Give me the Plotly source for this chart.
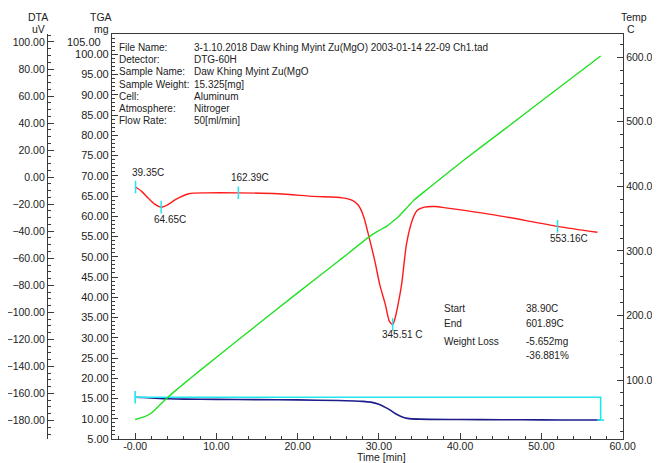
import plotly.graph_objects as go

# ---------------- data ----------------
dta_time = [0.05, 0.8, 1.6, 2.4, 3.2, 4.0, 5.0, 6.6, 8.8, 12.7, 17.6, 22.0, 25.5, 26.8,
            27.5, 28.15, 28.8, 29.5, 30.1, 30.8, 31.3, 31.7, 32.0, 32.4, 32.8, 33.4,
            34.1, 34.7, 35.6, 36.9, 38.2, 44.0, 52.0, 56.9]
dta_val = [-7.3, -10.5, -15.5, -20.0, -22.2, -20.5, -16.5, -12.3, -11.6, -11.6, -12.3,
           -14.2, -15.3, -17.3, -21.0, -29.6, -44.6, -62.0, -79.3, -94.3, -106.7, -109.0,
           -104.2, -93.0, -79.3, -49.6, -32.1, -24.7, -22.2, -21.7, -22.7, -27.7, -36.4, -40.8]

tga_time = [0, 1, 2, 3, 4, 6, 10, 15, 20, 25, 27, 28, 29, 30, 30.8, 31.5, 32, 32.8,
            33.5, 35, 40, 45, 50, 55, 57.3]
tga_mass = [15.325, 15.25, 15.12, 15.0, 14.92, 14.85, 14.78, 14.72, 14.65, 14.5, 14.4,
            14.3, 14.1, 13.6, 12.8, 12.0, 11.3, 10.5, 10.1, 9.9, 9.82, 9.76, 9.72, 9.69, 9.673]

temp_time = [0, 1, 2, 3, 4, 5, 6, 8, 12.7, 20, 25, 29, 30, 31, 31.7, 32.5, 33.3, 34.3,
             36, 40.4, 45, 52.2, 57.3]
temp_val = [38.9, 42.5, 49.0, 61.0, 73.0, 84.0, 94.5, 115.0, 162.4, 235.0, 284.0, 323.7,
            331.5, 338.5, 345.5, 354.0, 365.0, 378.6, 396.0, 440.0, 484.0, 553.2, 601.9]

peak_time = [0.05, 3.2, 12.7, 31.7, 52.0]
peak_dta = [-7.3, -22.2, -11.6, -109.0, -36.4]
peak_labels = ["39.35C", "64.65C", "162.39C", "345.51 C", "553.16C"]
peak_shift = [(12, 15), (9, -12), (12, 15), (10, -10), (11, -12)]

step_time = [0, 57.3]
step_mass = [15.325, 9.673]

x_ticks = [0, 10, 20, 30, 40, 50, 60]
x_ticktext = ["-0.00", "10.00", "20.00", "30.00", "40.00", "50.00", "60.00"]
tga_ticks = list(range(5, 101, 5))
dta_ticks = list(range(-180, 101, 20))
temp_ticks = [100, 200, 300, 400, 500, 600]

info_keys = ["File Name:", "Detector:", "Sample Name:", "Sample Weight:", "Cell:",
             "Atmosphere:", "Flow Rate:"]
info_vals = ["3-1.10.2018 Daw Khing Myint Zu(MgO) 2003-01-14 22-09 Ch1.tad", "DTG-60H",
             "Daw Khing Myint Zu(MgO", "15.325[mg]", "Aluminum", "Nitroger", "50[ml/min]"]
stat_keys = ["Start", "End", "Weight Loss", ""]
stat_vals = ["38.90C", "601.89C", "-5.652mg", "-36.881%"]

# ---------------- layout geometry ----------------
# The page body has an 8px default margin, so figure coordinates = screen - 8.
OFF = 8
W, H = 660, 463
PLOT_L, PLOT_R, PLOT_T, PLOT_B = 112, 623, 34, 439   # screen pixels of the plot frame
L = 0
T = PLOT_T - OFF
R = W - (PLOT_R - OFF)
B = H - (PLOT_B - OFF)
PW, PH = W - L - R, H - T - B


def px(xs):
    return (xs - OFF - L) / PW


def py(ys):
    return (H - B - (ys - OFF)) / PH


FONT = "Arial, 'Liberation Sans', sans-serif"
AX = "#3a3a3a"
TXT = "#222"
ANN = 10

fig = go.Figure()

fig.add_trace(go.Scatter(x=temp_time, y=temp_val, yaxis="y3", mode="lines",
                         line=dict(color="#22e022", width=1.4, shape="spline", smoothing=0.5),
                         hoverinfo="skip", showlegend=False))
fig.add_trace(go.Scatter(x=tga_time, y=tga_mass, yaxis="y", mode="lines",
                         line=dict(color="#1c1c8a", width=1.6, shape="spline", smoothing=0.6),
                         hoverinfo="skip", showlegend=False))
# weight-loss bracket
fig.add_trace(go.Scatter(x=[step_time[0], step_time[1], step_time[1]],
                         y=[step_mass[0], step_mass[0], step_mass[1]], yaxis="y",
                         mode="lines", line=dict(color="#22e5ee", width=1.6),
                         hoverinfo="skip", showlegend=False))
fig.add_trace(go.Scatter(x=[step_time[0]], y=[step_mass[0]], yaxis="y", mode="markers",
                         marker=dict(symbol="line-ns", size=9,
                                     line=dict(color="#22e5ee", width=1.6)),
                         hoverinfo="skip", showlegend=False))
fig.add_trace(go.Scatter(x=[step_time[1]], y=[step_mass[1]], yaxis="y", mode="markers",
                         marker=dict(symbol="line-ew", size=5,
                                     line=dict(color="#22e5ee", width=1.6)),
                         hoverinfo="skip", showlegend=False))
fig.add_trace(go.Scatter(x=dta_time, y=dta_val, yaxis="y2", mode="lines",
                         line=dict(color="#ff1a1a", width=1.4, shape="spline", smoothing=0.7),
                         hoverinfo="skip", showlegend=False))
fig.add_trace(go.Scatter(x=peak_time, y=peak_dta, yaxis="y2", mode="markers",
                         marker=dict(symbol="line-ns", size=9,
                                     line=dict(color="#22e5ee", width=1.5)),
                         hoverinfo="skip", showlegend=False))

annotations = []
for t, v, lab, (dx, dy) in zip(peak_time, peak_dta, peak_labels, peak_shift):
    annotations.append(dict(x=t, y=v, xref="x", yref="y2", text=lab, showarrow=False,
                            xanchor="center", yanchor="middle", xshift=dx, yshift=dy,
                            font=dict(size=ANN, color=TXT)))

info_y = [47, 59, 71.5, 84, 96, 108.5, 120.5]
for k, v, yy in zip(info_keys, info_vals, info_y):
    annotations.append(dict(x=px(117), y=py(yy), xref="paper", yref="paper", text=k,
                            showarrow=False, xanchor="left", yanchor="middle",
                            font=dict(size=ANN, color=TXT)))
    annotations.append(dict(x=px(192), y=py(yy), xref="paper", yref="paper", text=v,
                            showarrow=False, xanchor="left", yanchor="middle",
                            font=dict(size=ANN, color=TXT)))

stat_y = [308, 323.5, 341.5, 355]
for k, v, yy in zip(stat_keys, stat_vals, stat_y):
    if k:
        annotations.append(dict(x=px(442), y=py(yy), xref="paper", yref="paper", text=k,
                                showarrow=False, xanchor="left", yanchor="middle",
                                font=dict(size=ANN, color=TXT)))
    annotations.append(dict(x=px(524), y=py(yy), xref="paper", yref="paper", text=v,
                            showarrow=False, xanchor="left", yanchor="middle",
                            font=dict(size=ANN, color=TXT)))

for txt, xx, yy in [("DTA", 38, 17), ("uV", 38, 29), ("TGA", 101, 17), ("mg", 101, 29),
                    ("Temp", 634, 17), ("C", 631, 29)]:
    annotations.append(dict(x=px(xx), y=py(yy), xref="paper", yref="paper", text=txt,
                            showarrow=False, xanchor="center", yanchor="middle",
                            font=dict(size=10.5, color=TXT)))

annotations.append(dict(x=px(84), y=py(42), xref="paper", yref="paper", text="105.00",
                        showarrow=False, xanchor="center", yanchor="middle",
                        font=dict(size=11, color=TXT)))
annotations.append(dict(x=30.3, y=py(456.5), xref="x", yref="paper", text="Time [min]",
                        showarrow=False, xanchor="center", yanchor="middle",
                        font=dict(size=10.5, color=TXT)))


def axis_common(fs):
    return dict(showline=True, linecolor=AX, linewidth=1.2, ticks="inside", ticklen=6,
                tickcolor=AX, tickwidth=1, showgrid=False, zeroline=False,
                automargin=False, tickfont=dict(size=fs, color=TXT, family=FONT))


fig.update_layout(
    width=W, height=H,
    margin=dict(l=L, r=R, t=T, b=B, pad=0, autoexpand=False),
    paper_bgcolor="white", plot_bgcolor="white",
    font=dict(family=FONT, color=TXT),
    showlegend=False,
    xaxis=dict(domain=[px(PLOT_L), 1], range=[-2.85, 60.05], tickvals=x_ticks,
               ticktext=x_ticktext, mirror=True, ticklabelstandoff=-3,
               minor=dict(ticks="inside", dtick=2, tick0=0, ticklen=3, tickcolor=AX),
               **axis_common(10.5)),
    yaxis=dict(anchor="x", side="left", range=[5, 105], tickvals=tga_ticks,
               tickformat=".2f",
               minor=dict(ticks="inside", dtick=1, tick0=0, ticklen=3, tickcolor=AX),
               **axis_common(11)),
    yaxis2=dict(overlaying="y", anchor="free", position=px(47), side="left",
                range=[-193.7, 105.9], tickvals=dta_ticks, tickformat=".2f",
                minor=dict(ticks="inside", dtick=5, tick0=0, ticklen=3, tickcolor=AX),
                **axis_common(10.5)),
    yaxis3=dict(overlaying="y", anchor="x", side="right", range=[8.7, 636],
                tickvals=temp_ticks, tickformat=".2f",
                minor=dict(ticks="inside", dtick=20, tick0=0, ticklen=3, tickcolor=AX),
                **axis_common(10.5)),
    annotations=annotations,
)

fig.write_html("out.html")
